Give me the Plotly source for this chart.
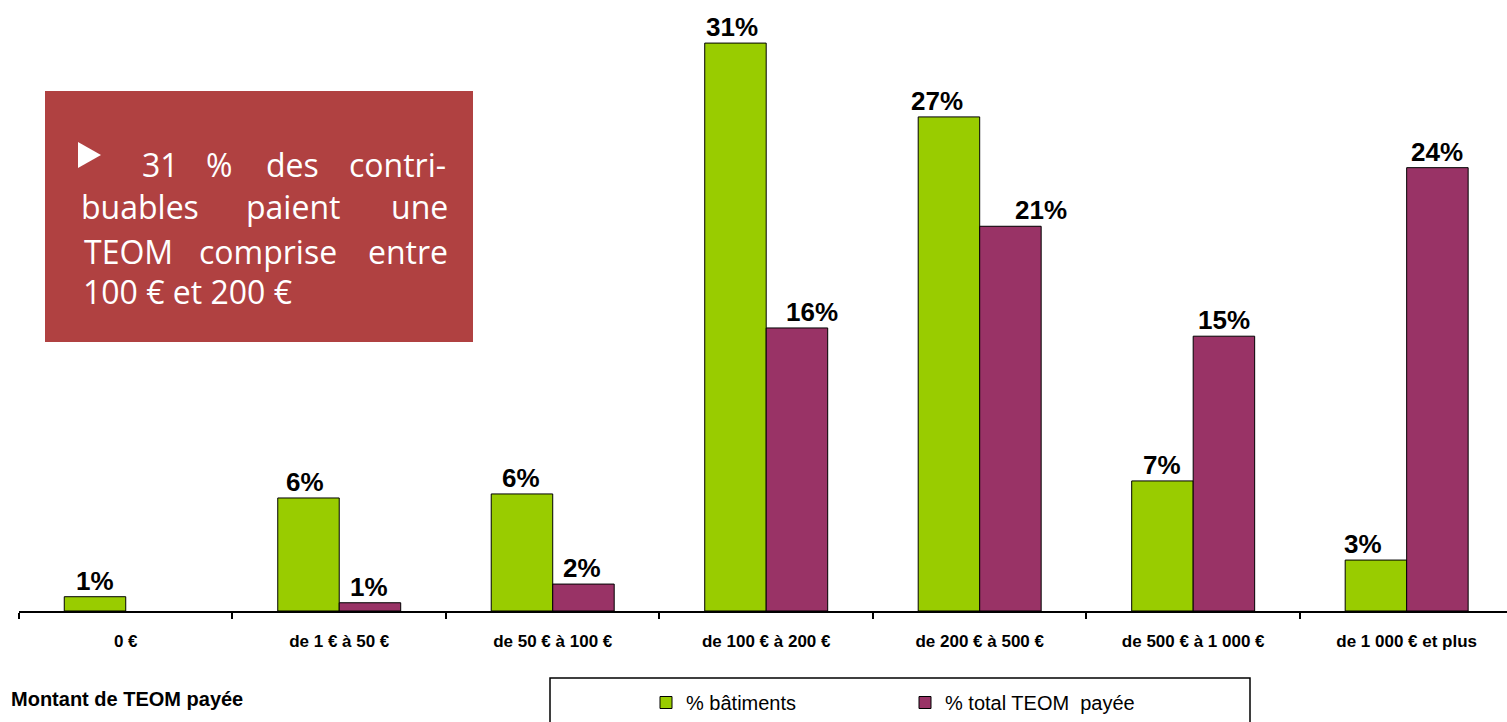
import plotly.graph_objects as go

# ---- data ----
categories = ["0 €", "de 1 € à 50 €", "de 50 € à 100 €", "de 100 € à 200 €",
              "de 200 € à 500 €", "de 500 € à 1 000 €", "de 1 000 € et plus"]
pct_batiments = [0.78, 6.17, 6.39, 31.0, 26.97, 7.1, 2.78]
pct_teom = [None, 0.45, 1.47, 15.45, 21.0, 15.0, 24.2]
labels_batiments = ["1%", "6%", "6%", "31%", "27%", "7%", "3%"]
labels_teom = ["", "1%", "2%", "16%", "21%", "15%", "24%"]
series_names = ["% bâtiments", "% total TEOM  payée"]

# ---- style ----
W, H = 1507, 722
BASE = 611
GREEN = "#99CC00"
PURPLE = "#993366"
BOX = "#B04141"
nudge_batiments = [0, -3, -1, -3, -12, 0, -13]
nudge_teom = [0, -1, -1, 15, 31, 0, 0]
HALF = 30.75


def px(x):
    return x / W


def py(y):
    return (BASE - y) / BASE


fig = go.Figure()
fig.add_trace(go.Bar(x=categories, y=pct_batiments, name=series_names[0],
                     marker=dict(color=GREEN, line=dict(color="#000000", width=1))))
fig.add_trace(go.Bar(x=categories, y=pct_teom, name=series_names[1],
                     marker=dict(color=PURPLE, line=dict(color="#000000", width=1))))

label_font = dict(family="Liberation Sans, Arial, sans-serif", size=26, color="#000000")
annotations = []
for cat, v, t, n in zip(categories, pct_batiments, labels_batiments, nudge_batiments):
    if v is not None and t:
        annotations.append(dict(x=cat, y=v, text="<b>%s</b>" % t, showarrow=False,
                                xref="x", yref="y", xanchor="center", yanchor="bottom",
                                xshift=-HALF + n, yshift=-1, font=label_font))
for cat, v, t, n in zip(categories, pct_teom, labels_teom, nudge_teom):
    if v is not None and t:
        annotations.append(dict(x=cat, y=v, text="<b>%s</b>" % t, showarrow=False,
                                xref="x", yref="y", xanchor="center", yanchor="bottom",
                                xshift=HALF + n, yshift=-1, font=label_font))

# callout box text (justified lines, word by word)
box_font = dict(family="Open Sans, Noto Sans, sans-serif", size=32, color="#FFFFFF")
box_words = [
    ("31", 141, 176), ("%", 205, 176), ("des", 265, 176), ("contri-", 348, 176),
    ("buables", 80, 218), ("paient", 245, 218), ("une", 390, 218),
    ("TEOM", 83, 263), ("comprise", 198, 263), ("entre", 367, 263),
    ("100 € et 200 €", 82, 303),
]
for word, x0, base in box_words:
    annotations.append(dict(x=px(x0), y=py(base - 11.2), xref="paper", yref="paper",
                            text=word, showarrow=False, xanchor="left", yanchor="middle",
                            font=box_font, borderpad=0))

annotations.append(dict(x=px(9), y=py(699), xref="paper", yref="paper",
                        text="<b>Montant de TEOM payée</b>", showarrow=False,
                        xanchor="left", yanchor="middle",
                        font=dict(family="Liberation Sans, Arial, sans-serif", size=20,
                                  color="#000000")))

shapes = [
    dict(type="rect", xref="paper", yref="paper", x0=px(45), x1=px(473),
         y0=py(342), y1=py(91), fillcolor=BOX, line=dict(width=0), layer="above"),
    dict(type="path", xref="paper", yref="paper",
         path="M %f %f L %f %f L %f %f Z" % (px(78), py(142), px(78), py(168), px(101), py(155)),
         fillcolor="#FFFFFF", line=dict(width=0), layer="above"),
    dict(type="rect", xref="paper", yref="paper", x0=px(550), x1=px(1250),
         y0=py(740), y1=py(678), fillcolor="rgba(0,0,0,0)",
         line=dict(color="#000000", width=1.5)),
]

fig.update_layout(
    width=W, height=H,
    margin=dict(l=0, r=0, t=0, b=H - BASE, pad=0),
    paper_bgcolor="#FFFFFF", plot_bgcolor="#FFFFFF",
    barmode="group", bargap=0.424, bargroupgap=0,
    showlegend=True,
    legend=dict(orientation="h", x=px(646), y=py(703), xanchor="left", yanchor="middle",
                font=dict(family="Liberation Sans, Arial, sans-serif", size=20, color="#000000"),
                bgcolor="rgba(0,0,0,0)", borderwidth=0, entrywidth=214,
                traceorder="normal"),
    annotations=annotations,
    shapes=shapes,
    xaxis=dict(domain=[px(19), 1], range=[-0.5, 6.47], type="category",
               showline=True, linecolor="#000000", linewidth=2,
               ticks="outside", ticklen=6, tickwidth=1.5, tickcolor="#000000",
               tickson="boundaries", showgrid=False, zeroline=False,
               ticklabelstandoff=14,
               tickfont=dict(family="Liberation Sans, Arial, sans-serif", size=17,
                             color="#000000", weight="bold")),
    yaxis=dict(range=[0, BASE / 18.32], visible=False, showgrid=False, zeroline=False),
)

fig.write_html("out.html")
